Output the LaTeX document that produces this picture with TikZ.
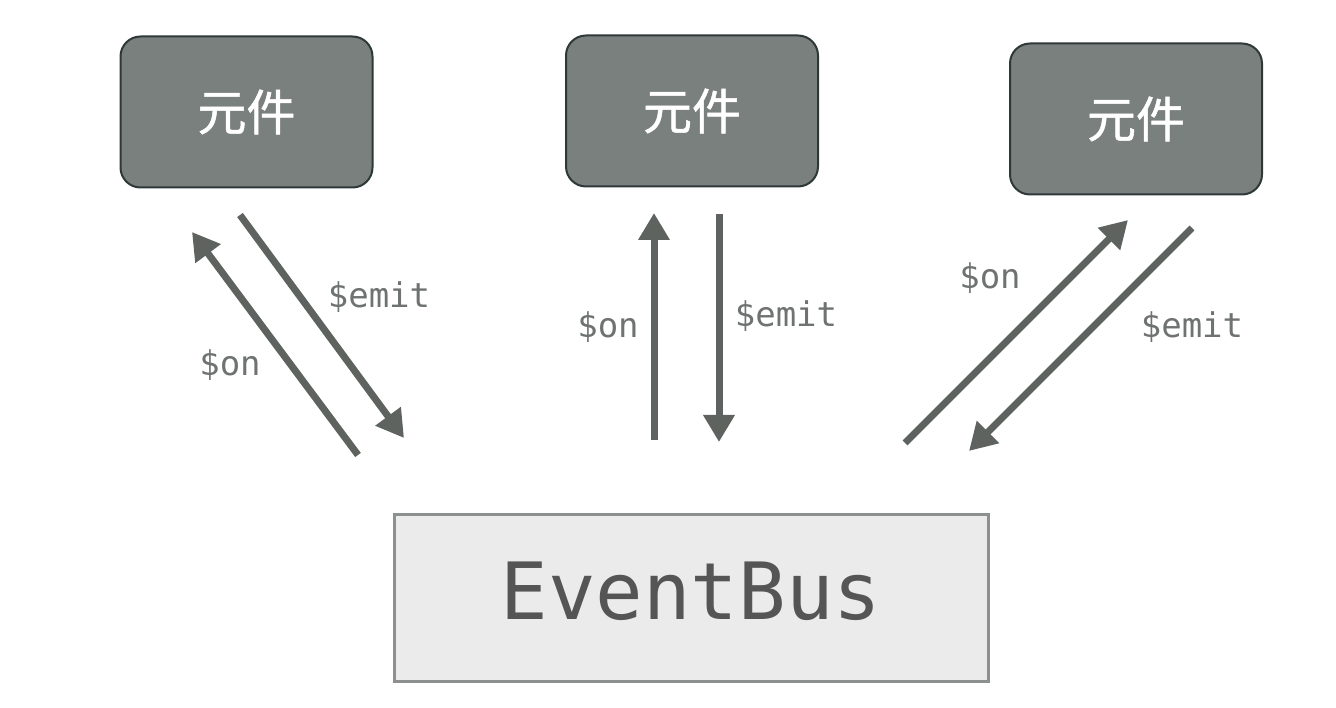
\documentclass[tikz,border=0pt]{standalone}
\usepackage{fontspec}
\newfontfamily\cjkfont[FakeBold=1]{Noto Sans CJK SC}
\newfontfamily\busfont{DejaVu Sans Mono}
\usepackage{tikz}
\usetikzlibrary{arrows.meta,backgrounds,calc}
\definecolor{compfill}{HTML}{7A807D}
\definecolor{compline}{HTML}{2E3838}
\definecolor{busfill}{HTML}{EBEBEB}
\definecolor{busline}{HTML}{8C918F}
\definecolor{bustext}{HTML}{555555}
\definecolor{arrowgray}{HTML}{5E6360}
\definecolor{labelgray}{HTML}{6E7270}
\tikzset{
  comp/.style={draw=compline, line width=2pt, fill=compfill, rounded corners=20pt,
    minimum width=252pt, minimum height=151pt, inner sep=0pt,
    text=white, font=\cjkfont\fontsize{49}{52}\selectfont},
  bus/.style={draw=busline, line width=3pt, fill=busfill,
    minimum width=594pt, minimum height=167pt, inner sep=0pt,
    text height=57.6pt, text depth=14pt,
    text=bustext, font=\busfont\fontsize{79}{84}\selectfont},
  msg/.style={draw=arrowgray, line width=7pt, -{Triangle[length=27pt,width=30pt]}},
  lbl/.style={text=labelgray, font=\busfont\fontsize{34}{38}\selectfont, inner sep=0pt}
}
\begin{document}
\begin{tikzpicture}[x=1pt,y=-1pt]
\useasboundingbox (0,0) rectangle (1336,708);
% components and bus
\node[comp] (c1) at (246.5,112) {元件};
\node[comp] (c2) at (692,111) {元件};
\node[comp] (c3) at (1136,119) {元件};
\node[bus] (bus) at (691,597.5) {EventBus};
% arrow ends
\coordinate (on1a) at (358,455);  \coordinate (on1b) at (192,232);
\coordinate (em1a) at (240,215);  \coordinate (em1b) at (404,438);
\coordinate (on2a) at (654,440);  \coordinate (on2b) at (654,213);
\coordinate (em2a) at (719,214);  \coordinate (em2b) at (719,442);
\coordinate (on3a) at (905,443);  \coordinate (on3b) at (1128,220);
\coordinate (em3a) at (1192,228); \coordinate (em3b) at (969,451);
\draw[msg] (on1a) -- (on1b);
\draw[msg] (em1a) -- (em1b);
\draw[msg] (on2a) -- (on2b);
\draw[msg] (em2a) -- (em2b);
\draw[msg] (on3a) -- (on3b);
\draw[msg] (em3a) -- (em3b);
% labels
\node[lbl] (l1on) at (230,365) {\$on};
\node[lbl] (l1em) at (379,297) {\$emit};
\node[lbl] (l2on) at (608,327) {\$on};
\node[lbl] (l2em) at (786,316) {\$emit};
\node[lbl] (l3on) at (990,278) {\$on};
\node[lbl] (l3em) at (1192,327) {\$emit};
\end{tikzpicture}
\end{document}
